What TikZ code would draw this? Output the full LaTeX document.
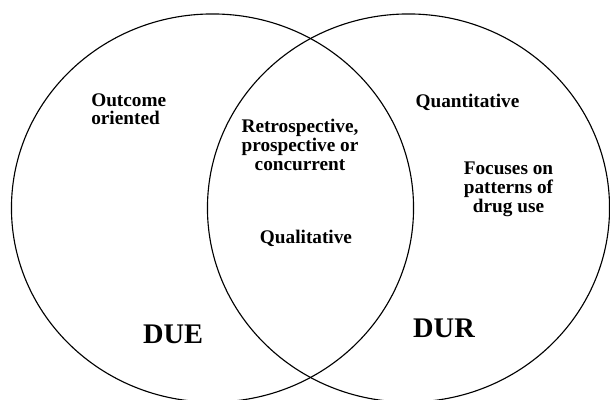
\documentclass[tikz,border=0pt]{standalone}
\usepackage{fontspec}
\setmainfont{Liberation Serif}
\usetikzlibrary{shapes.geometric}

\begin{document}
\begin{tikzpicture}[x=0.025cm, y=-0.025cm,
    set/.style = {draw, ellipse, line width=0.8pt, inner sep=0pt, minimum width=10.05cm, minimum height=9.7cm},
    lbl/.style = {inner sep=0pt, font=\bfseries\fontsize{13.7}{13.5}\selectfont},
    big/.style = {inner sep=0pt, font=\bfseries\fontsize{20.2}{22}\selectfont}]
    \useasboundingbox (0,0) rectangle (610,400);

    \node[set] (due) at (212.5,208) {};
    \node[set] (dur) at (408.5,208) {};

    % multi-line nodes: base is the last line
    \node[lbl, anchor=base west, align=left] (outcome) at (91,125) {Outcome\\oriented};
    \node[lbl, anchor=base, align=center] (timing) at (300,170) {Retrospective,\\prospective or\\concurrent};
    \node[lbl, anchor=base] (quali) at (306,243) {Qualitative};
    \node[lbl, anchor=base] (quanti) at (467.5,108) {Quantitative};
    \node[lbl, anchor=base, align=center] (focus) at (508.5,212) {Focuses on\\patterns of\\drug use};

    \node[big, anchor=base] (duelbl) at (173,343) {DUE};
    \node[big, anchor=base] (durlbl) at (444,337) {DUR};
\end{tikzpicture}
\end{document}
